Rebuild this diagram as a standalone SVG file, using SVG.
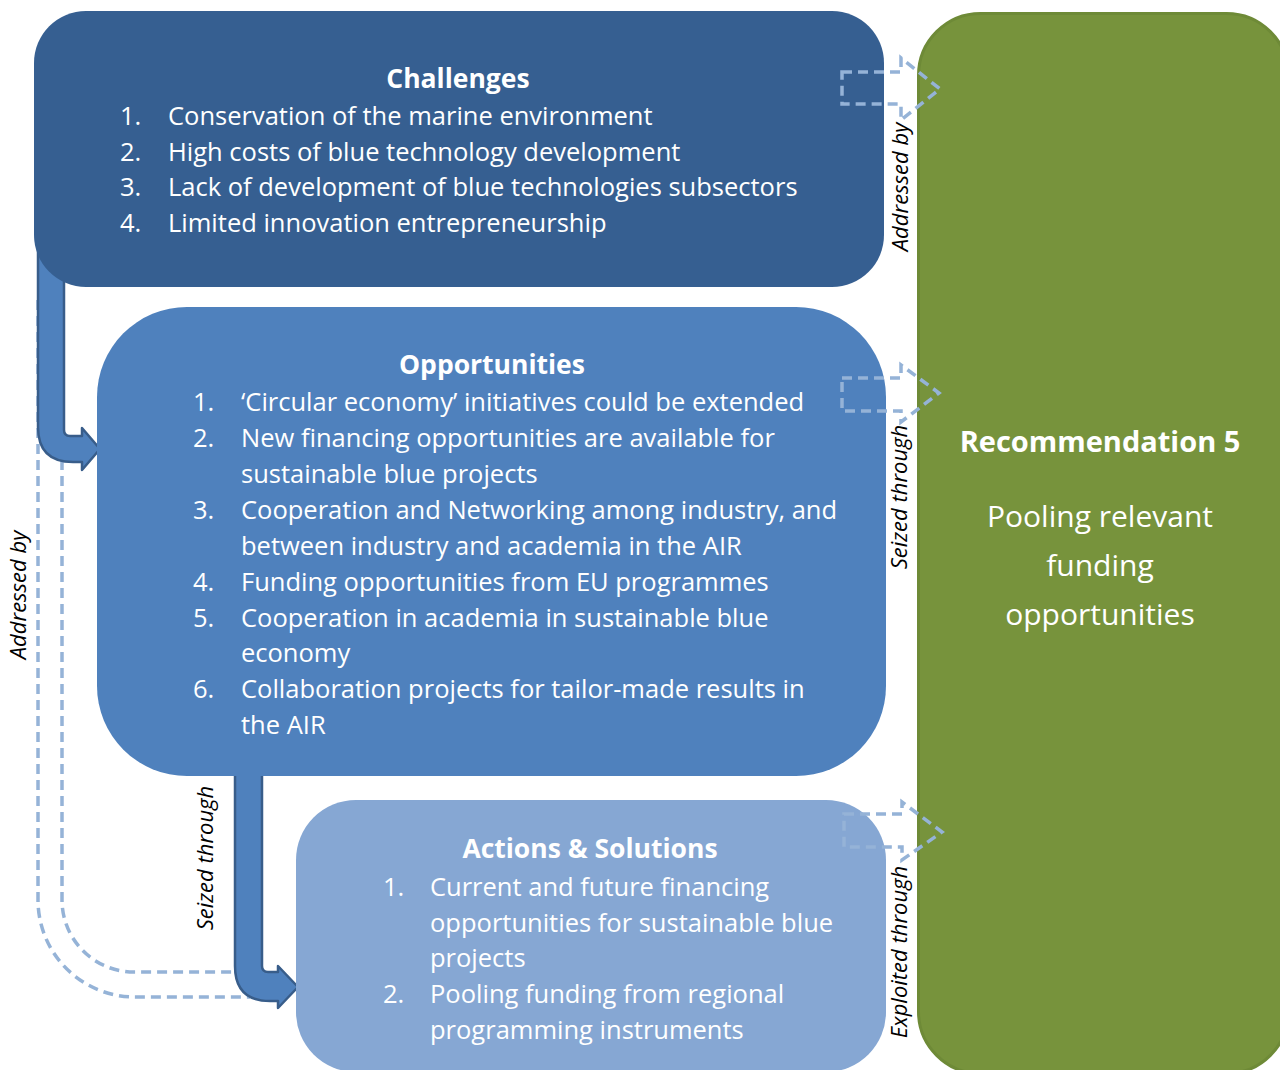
<svg xmlns="http://www.w3.org/2000/svg" width="1280" height="1070" viewBox="0 0 1280 1070">
<style>
  .t { font-family: "Open Sans", "Noto Sans", "DejaVu Sans", sans-serif; fill: #ffffff; font-size: 25.5px; }
  .h { font-weight: bold; text-anchor: middle; font-size: 26.5px; }
  .r { text-anchor: middle; font-size: 30px; }
  .lab { font-family: "Open Sans", "Noto Sans", "DejaVu Sans", sans-serif; font-style: italic; font-size: 22px; fill: #000000; text-anchor: middle; }
  .dash { fill: none; stroke: #95B3D7; stroke-width: 3.5; stroke-dasharray: 10 6; }
  .solid { stroke: #385D8A; stroke-width: 2.5; stroke-linejoin: round; }
</style>
<rect width="1280" height="1070" fill="#ffffff"/>

<g id="connectors-back">
  <path class="dash" d="M38,300 L38,900 A97,97 0 0 0 135,997 L250,997"/>
  <path class="dash" d="M62,300 L62,900 A72,72 0 0 0 134,972 L250,972"/>
</g>

<g id="recommendation">
  <rect x="918.5" y="13.5" width="370" height="1060" rx="62" fill="#77933C" stroke="#6E8A37" stroke-width="3"/>
  <text class="t h" x="1100" y="452" style="font-size:29px">Recommendation 5</text>
  <text class="t r" x="1100" y="527">Pooling relevant</text>
  <text class="t r" x="1100" y="576">funding</text>
  <text class="t r" x="1100" y="625">opportunities</text>
</g>

<g id="arrow-challenges-opportunities">
  <path class="solid" fill="#4F81BD" d="M38,250 L38,427 Q38,462 73,462 L82,462 L82,470 L100,449 L82,428 L82,436 L70,436 Q64,436 64,430 L64,250 Z"/>
</g>

<g id="challenges">
  <rect x="34" y="11" width="850" height="276" rx="52" fill="#365F91"/>
  <text class="t h" x="458" y="88">Challenges</text>
  <text class="t" x="120" y="125">1.</text><text class="t" x="168" y="125">Conservation of the marine environment</text>
  <text class="t" x="120" y="161">2.</text><text class="t" x="168" y="161">High costs of blue technology development</text>
  <text class="t" x="120" y="196">3.</text><text class="t" x="168" y="196">Lack of development of blue technologies subsectors</text>
  <text class="t" x="120" y="232">4.</text><text class="t" x="168" y="232">Limited innovation entrepreneurship</text>
</g>

<g id="arrow-opportunities-actions">
  <path class="solid" fill="#4F81BD" d="M235,770 L235,966 Q235,1001 270,1001 L278,1001 L278,1008 L298,987 L278,966 L278,972 L268,972 Q262,972 262,966 L262,770 Z"/>
</g>

<g id="opportunities">
  <rect x="97" y="307" width="789" height="469" rx="90" fill="#4F81BD"/>
  <text class="t h" x="492" y="374">Opportunities</text>
  <text class="t" x="193" y="411">1.</text><text class="t" x="241" y="411">‘Circular economy’ initiatives could be extended</text>
  <text class="t" x="193" y="447">2.</text><text class="t" x="241" y="447">New financing opportunities are available for</text>
  <text class="t" x="241" y="483">sustainable blue projects</text>
  <text class="t" x="193" y="519">3.</text><text class="t" x="241" y="519">Cooperation and Networking among industry, and</text>
  <text class="t" x="241" y="555">between industry and academia in the AIR</text>
  <text class="t" x="193" y="591">4.</text><text class="t" x="241" y="591">Funding opportunities from EU programmes</text>
  <text class="t" x="193" y="627">5.</text><text class="t" x="241" y="627">Cooperation in academia in sustainable blue</text>
  <text class="t" x="241" y="662">economy</text>
  <text class="t" x="193" y="698">6.</text><text class="t" x="241" y="698">Collaboration projects for tailor-made results in</text>
  <text class="t" x="241" y="734">the AIR</text>
</g>

<g id="actions">
  <rect x="296" y="800" width="590" height="272" rx="60" fill="#86A7D3"/>
  <text class="t h" x="590" y="858">Actions &amp; Solutions</text>
  <text class="t" x="383" y="896">1.</text><text class="t" x="430" y="896">Current and future financing</text>
  <text class="t" x="430" y="932">opportunities for sustainable blue</text>
  <text class="t" x="430" y="967">projects</text>
  <text class="t" x="383" y="1003">2.</text><text class="t" x="430" y="1003">Pooling funding from regional</text>
  <text class="t" x="430" y="1039">programming instruments</text>
</g>

<g id="connectors-front">
  <polygon class="dash" points="842,72 901,72 901,58 940,89 901,120 901,104 842,104"/>
  <polygon class="dash" points="842,378 901,378 901,365 939,393 901,422 901,411 842,411"/>
  <polygon class="dash" points="844,814 902,814 902,802 942,832 902,860 902,847 844,847"/>
</g>

<g id="labels">
  <text class="lab" transform="translate(908,187) rotate(-90)">Addressed by</text>
  <text class="lab" transform="translate(907,497) rotate(-90)">Seized through</text>
  <text class="lab" transform="translate(907,952) rotate(-90)">Exploited through</text>
  <text class="lab" transform="translate(26,595) rotate(-90)">Addressed by</text>
  <text class="lab" transform="translate(213,858) rotate(-90)">Seized through</text>
</g>
</svg>
